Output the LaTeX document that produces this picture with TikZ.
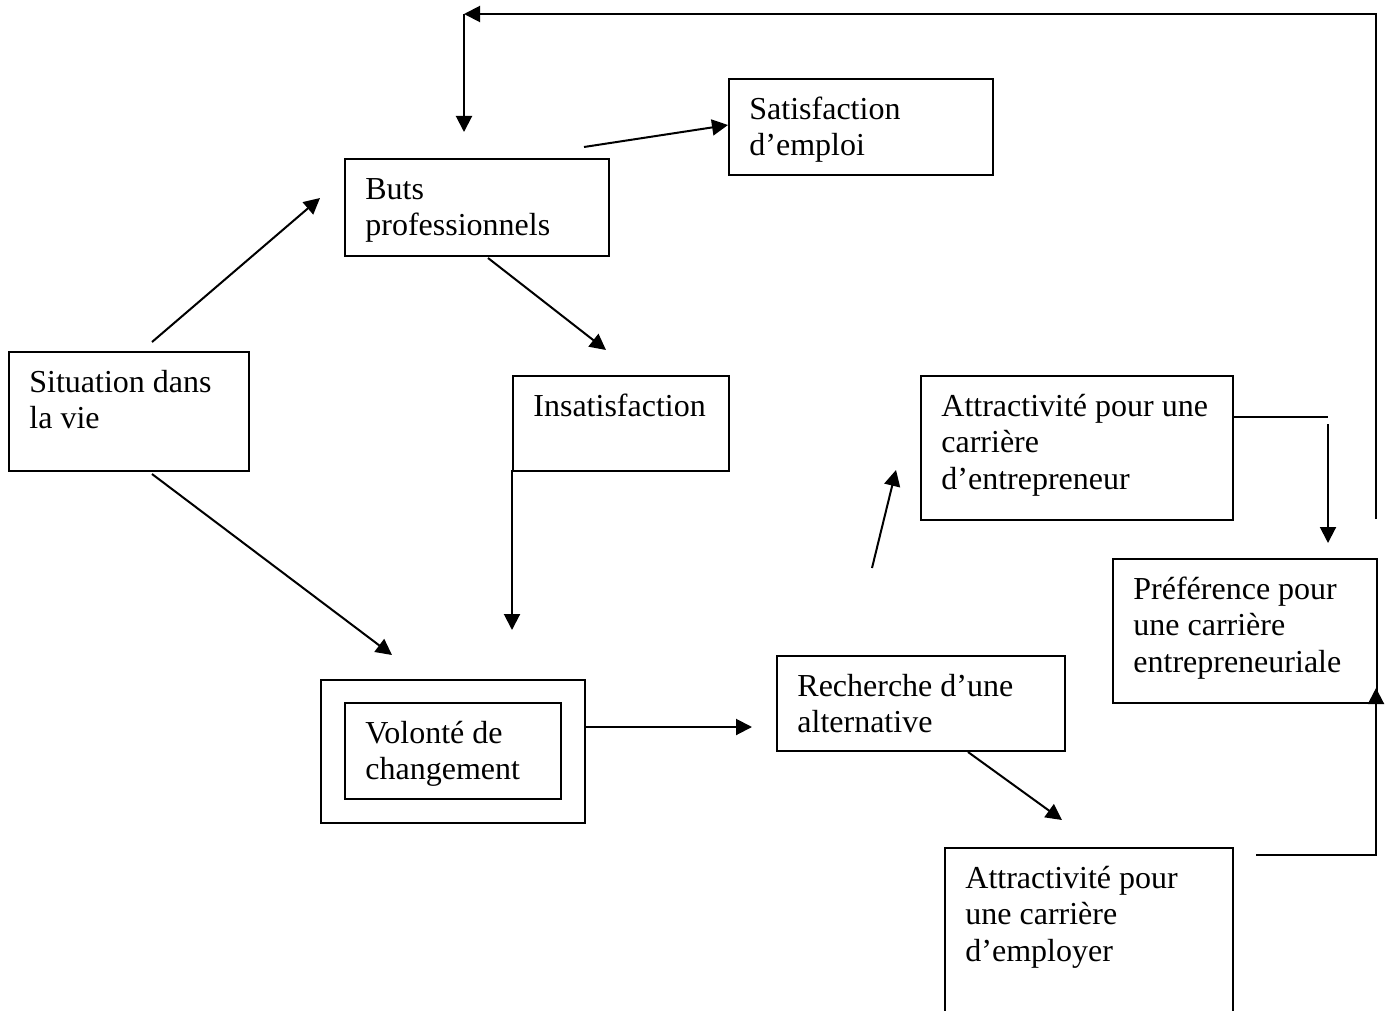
\documentclass[tikz,border=0pt]{standalone}
\usepackage{fontspec}
\setmainfont{Liberation Serif}
\usetikzlibrary{arrows.meta,calc,positioning}

\tikzset{
  boite/.style={draw, line width=0.9pt, anchor=north west, inner sep=0pt},
  texte/.style={anchor=north west, inner sep=0pt, align=left, font=\fontsize{16}{18.3}\selectfont},
  fleche/.style={line width=1pt, -{Triangle[length=8pt,width=8pt]}},
  trait/.style={line width=1pt},
}

\begin{document}
\begin{tikzpicture}[x=0.5pt,y=-0.5pt]
\useasboundingbox (0,0) rectangle (1386,1011);
\clip (0,0) rectangle (1386,1011);

% boites
\node[boite, minimum width=120pt, minimum height=59.5pt] (sit) at (8,351) {};
\node[texte] (sit-t) at (29,366) {\strut Situation dans\\la vie};
\node[boite, minimum width=132pt, minimum height=48.5pt] (buts) at (344,158) {};
\node[texte] (buts-t) at (365,173) {\strut Buts\\professionnels};
\node[boite, minimum width=132pt, minimum height=48pt] (satis) at (728,78) {};
\node[texte] (satis-t) at (749,93) {\strut Satisfaction\\d’emploi};
\node[boite, minimum width=108pt, minimum height=47.5pt] (insat) at (512,375) {};
\node[texte] (insat-t) at (533,390) {\strut Insatisfaction};
\node[boite, minimum width=132pt, minimum height=71.5pt] (vol) at (320,679) {};
\node[boite, minimum width=108pt, minimum height=48pt] (vol-in) at (344,702) {};
\node[texte] (vol-t) at (365,717) {\strut Volonté de\\changement};
\node[boite, minimum width=144pt, minimum height=47.5pt] (rech) at (776,655) {};
\node[texte] (rech-t) at (797,670) {\strut Recherche d’une\\alternative};
\node[boite, minimum width=156pt, minimum height=72pt] (attE) at (920,375) {};
\node[texte] (attE-t) at (941,390) {\strut Attractivité pour une\\carrière\\d’entrepreneur};
\node[boite, minimum width=132pt, minimum height=72pt] (pref) at (1112,558) {};
\node[texte] (pref-t) at (1133,573) {\strut Préférence pour\\une carrière\\entrepreneuriale};
\node[boite, minimum width=144pt, minimum height=120pt] (attM) at (944,847) {};
\node[texte] (attM-t) at (965,862) {\strut Attractivité pour\\une carrière\\d’employer};

% points des fleches
\coordinate (sit-h) at (152,342);
\coordinate (buts-a) at (320,198);
\coordinate (sit-b) at (152,474);
\coordinate (vol-a) at (392,655);
\coordinate (buts-b) at (488,258);
\coordinate (insat-a) at (606,350);
\coordinate (buts-d) at (584,147);
\coordinate (satis-a) at (728,125);
\coordinate (insat-b) at (512,470);
\coordinate (vol-h) at (512,630);
\coordinate (vol-d) at (584,727);
\coordinate (rech-a) at (752,727);
\coordinate (rech-b) at (968,752);
\coordinate (attM-a) at (1062,820);
\coordinate (rech-h) at (872,568);
\coordinate (attE-a) at (896,470);
\coordinate (attE-d) at (1232,417);
\coordinate (attE-c) at (1328,417);
\coordinate (attE-c2) at (1328,424);
\coordinate (pref-h) at (1328,543);
\coordinate (attM-d) at (1256,855);
\coordinate (pref-b) at (1376,688);
\coordinate (retour) at (1376,519);
\coordinate (coin) at (464,14);
\coordinate (buts-h) at (464,132);

% fleches
\draw[fleche] (sit-h) -- (buts-a);
\draw[fleche] (sit-b) -- (vol-a);
\draw[fleche] (buts-b) -- (insat-a);
\draw[fleche] (buts-d) -- (satis-a);
\draw[fleche] (insat-b) -- (vol-h);
\draw[fleche] (vol-d) -- (rech-a);
\draw[fleche] (rech-b) -- (attM-a);
\draw[fleche] (rech-h) -- (attE-a);
\draw[trait] (attE-d) -- (attE-c);
\draw[fleche] (attE-c2) -- (pref-h);
\draw[fleche] (attM-d) -| (pref-b);
\draw[fleche] (retour) |- (coin);
\draw[fleche] (coin) -- (buts-h);
\end{tikzpicture}
\end{document}
